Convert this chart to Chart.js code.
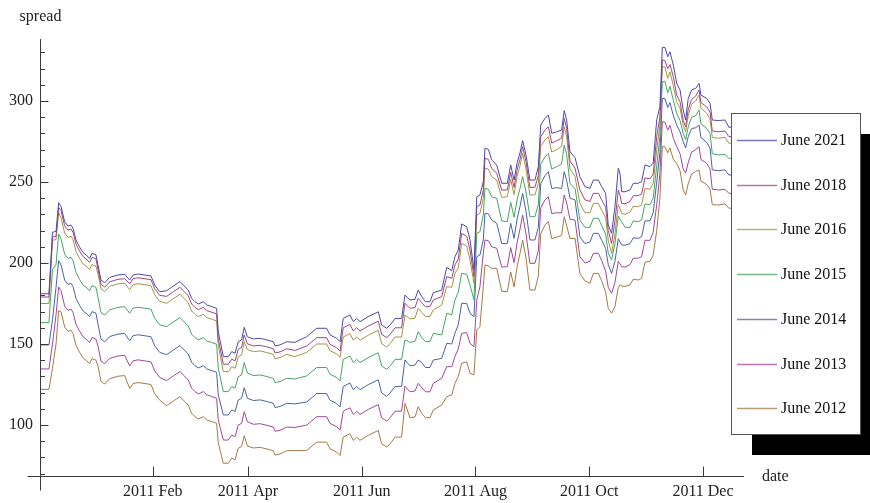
<!DOCTYPE html>
<html>
<head>
<meta charset="utf-8">
<script src="https://cdn.jsdelivr.net/npm/chart.js@4.4.1/dist/chart.umd.min.js"></script>
<style>
  html, body { margin: 0; padding: 0; background: #fff; }
  #wrap { width: 870px; height: 503px; }
</style>
</head>
<body>
<div id="wrap"><canvas id="chart" width="870" height="503"></canvas></div>
<script>
// day number counted from 1 Jan 2011 (negative = late Dec 2010)
const days = [
  -21.0, -16.7, -14.8, -12.9, -11.5, -10.2, -8.3, -6.5, -4.9, -3.8,
  -2.2, -0.2, 1.6, 3.2, 5.1, 6.4, 8.5, 9.6, 11.2, 13.2,
  15.9, 20.3, 23.9, 26.6, 28.4, 31.0, 38.0, 40.0, 42.7, 46.4,
  50.0, 53.6, 55.3, 58.0, 59.8, 61.6, 63.4, 66.1, 67.9, 70.6,
  73.2, 74.1, 76.8, 79.5, 81.3, 83.1, 84.8, 86.6, 88.0, 89.7,
  92.9, 96.5, 100.1, 103.6, 104.5, 107.2, 110.8, 115.2, 121.5, 126.9,
  132.2, 134.0, 137.6, 139.4, 141.1, 144.7, 146.5, 148.3, 150.1, 154.5,
  159.9, 161.7, 164.4, 166.2, 168.9, 172.4, 174.2, 176.9, 179.6, 181.3,
  183.2, 185.2, 187.6, 189.4, 193.9, 196.6, 199.3, 201.0, 202.8, 204.6,
  207.3, 209.1, 211.2, 212.7, 214.4, 216.2, 217.1, 218.9, 220.7, 223.4,
  226.1, 229.1, 230.9, 232.7, 234.4, 235.9, 237.3, 239.1, 241.2, 243.9,
  245.7, 247.0, 249.3, 251.1, 252.9, 255.6, 258.2, 259.6, 260.9, 262.7,
  265.4, 268.0, 270.7, 273.4, 275.2, 277.9, 279.7, 281.8, 283.2, 285.0,
  286.8, 288.6, 289.5, 290.4, 292.2, 294.9, 296.6, 299.3, 301.1, 302.9,
  305.6, 307.3, 309.2, 310.9, 312.2, 313.6, 315.1, 316.3, 318.1, 319.9,
  321.7, 323.4, 324.7, 326.1, 327.9, 330.1, 331.9, 332.9, 336.0, 337.8,
  339.0, 342.2, 345.8, 347.9, 353.8
];

const june2021 = [
  181, 181, 219, 219.5, 237.2, 234.8, 225.5, 222.8, 223.5, 221.5,
  214.2, 209.7, 206.4, 205, 202.9, 206, 205, 198.8, 189.5, 187.8,
  191.1, 192.6, 193, 189.5, 192.6, 193.2, 192, 186.4, 182.3, 182.9,
  185.8, 188.5, 186.4, 183.3, 178.2, 176.1, 174.7, 176.1, 174.1, 173.1,
  172, 157.6, 142.2, 142.2, 145.3, 144.3, 151.4, 152.5, 160.3, 154.5,
  153.1, 153.5, 152.5, 151.4, 148.8, 149.4, 151.4, 151, 154.5, 159.7,
  159.7, 155.6, 153.5, 151.4, 165.8, 167.9, 163.8, 165.8, 163.8, 166.9,
  169.9, 161.7, 159.7, 161.7, 165.8, 165.8, 180.2, 177.2, 177.6, 183.3,
  179.2, 176.1, 176.1, 181.7, 183.3, 197.3, 195.3, 203.9, 208, 224.1,
  222.4, 214.2, 195.7, 240.9, 242, 250.2, 270.8, 270.2, 263.6, 260.5,
  249.2, 249.2, 260.5, 251.2, 262, 268.1, 275.6, 266.7, 251.2, 251.2,
  259.5, 285.2, 289.3, 291.4, 280.1, 281, 282.1, 294, 288.3, 268.7,
  265, 253.3, 247.1, 246.1, 251.2, 251.2, 247.1, 243, 223.5, 218.3,
  234.8, 258.5, 255.4, 244, 244, 245.1, 249.2, 249.2, 250.2, 260.5,
  259.5, 261.6, 288.3, 296.5, 333.1, 333.1, 327.4, 330.4, 322.2, 310.9,
  306.8, 294.4, 288.3, 301.6, 306.8, 307.8, 310.9, 303.7, 301.6, 298.6,
  288.3, 287.9, 288.3, 283.8, 284
];

const june2018 = [
  179, 179, 216, 216.5, 234.2, 232.3, 223, 220.3, 221, 219,
  211.7, 207.2, 203.9, 202.5, 200.4, 203.5, 202.5, 196.1, 186.8, 185.1,
  188.4, 189.9, 190.3, 187.2, 190.3, 190.9, 189.7, 184.1, 180, 179.4,
  182.3, 185, 182.9, 179.8, 174.7, 172.6, 171.2, 172.6, 170.6, 169.6,
  168.5, 153, 137.5, 137.5, 140.6, 139.6, 146.7, 147.8, 155.6, 150.1,
  148.8, 149.2, 148.2, 147.1, 144.5, 145.1, 147.1, 146, 148.7, 153.9,
  153.9, 149.8, 147.7, 145.6, 160, 162.1, 158, 160, 158, 161.1,
  164.1, 155.9, 153.9, 155.9, 160, 160, 175.1, 172, 172.5, 178.2,
  175.5, 173, 173, 177.2, 179.2, 191.6, 190.5, 198.8, 202.5, 218.3,
  216.5, 208, 191.6, 234.8, 235.8, 245.1, 264.6, 264, 258.5, 255.4,
  245, 245.1, 256, 246.7, 257.8, 264, 271.8, 262.5, 246.7, 246.7,
  254, 278, 282, 284.1, 274, 275.5, 277, 289.3, 283, 263,
  258.5, 245.1, 239, 238, 243, 243, 239, 234.5, 220, 212.1,
  226, 245, 242, 236.8, 236.5, 238, 241.5, 241.6, 242.6, 252.5,
  252, 255, 278, 290, 325.3, 325, 320, 322.5, 315, 303.7,
  299.5, 288, 284, 295, 301, 303, 306.8, 299, 296.5, 293,
  281.5, 281, 281.5, 278, 278
];

const june2016 = [
  175, 175, 214, 214.5, 231.2, 227.8, 218.5, 215.8, 216.5, 214.5,
  207.2, 202.7, 199.4, 198, 195.9, 199, 198, 193.3, 184, 182.3,
  185.6, 187.1, 187.5, 183.5, 186.6, 187.2, 186, 180.4, 176.3, 175.1,
  178, 180.7, 178.6, 175.5, 170.4, 168.3, 166.9, 168.3, 166.3, 165.3,
  164.2, 149, 132.9, 132.9, 136, 135, 142.1, 143.2, 151.4, 146.5,
  145.3, 145.7, 144.7, 143.6, 141, 141.6, 143.6, 142.2, 144.8, 150,
  150, 145.9, 143.8, 141.7, 154.3, 156.4, 152.3, 154.3, 152.3, 155.4,
  158.4, 150.2, 148.2, 150.2, 154.3, 154.3, 167.9, 165.5, 166, 172,
  169.5, 167, 167, 171, 174.1, 185.4, 185, 193.6, 197, 212.1,
  210.5, 201.9, 187.5, 229.6, 230.7, 239.9, 258.5, 258, 253.3, 251.2,
  240.5, 240.9, 251.5, 242.2, 253.6, 260, 267.7, 258, 242, 242,
  249, 272, 276, 278, 268.5, 270, 272, 284.1, 278, 258,
  253.3, 236.8, 231, 231, 236.8, 236.8, 232.5, 228, 214, 206,
  218, 236, 233.5, 230.7, 230, 231.5, 235, 234.8, 235.8, 246,
  245.5, 249, 270, 285, 321.2, 321, 314, 318, 309.5, 299.6,
  295.5, 285, 281, 291, 298, 300, 303.7, 295.5, 292.5, 289,
  277.5, 277, 277.5, 273.9, 274
];

const june2015 = [
  163.2, 163.2, 196, 199, 217.9, 214.8, 205.5, 202.8, 203.5, 201.5,
  194.2, 189.7, 186.4, 185, 182.9, 186, 185, 178.8, 169.5, 167.8,
  171.1, 172.6, 173, 169, 172.1, 172.7, 171.5, 165.9, 161.8, 160.7,
  163.6, 166.3, 164.2, 161.1, 156, 153.9, 152.5, 153.9, 151.9, 150.9,
  149.8, 135, 120.6, 120.6, 123.7, 122.7, 129.8, 130.9, 138.5, 132.1,
  130.5, 130.9, 129.9, 128.8, 126.2, 126.8, 128.8, 128.4, 130.3, 135.5,
  135.5, 131.4, 129.3, 127.2, 140.5, 142.6, 138.5, 140.5, 138.5, 141.6,
  144.6, 136.4, 134.4, 136.4, 140.5, 140.5, 152.5, 151, 151.5, 157.6,
  154, 151.5, 151.5, 156.6, 155.6, 168.9, 168, 177.2, 182, 193.6,
  193, 186.4, 177.2, 218.3, 219.3, 229.6, 246.1, 245.5, 240.9, 239.9,
  226, 225.5, 237.5, 228.2, 239.5, 246, 253.3, 244, 228.6, 228.6,
  236, 261, 265.5, 267.7, 258, 259.5, 261, 272.8, 267, 249,
  246.1, 226.5, 222, 222, 227.6, 227.6, 223, 218, 206, 201.9,
  212, 229, 227, 225.5, 222, 222, 226, 225.5, 226.5, 236.5,
  236, 240, 260, 278, 312, 312, 305, 309, 300.5, 292.4,
  288, 280, 276, 284, 290, 291, 294.4, 286, 283, 280,
  267.5, 266.7, 267, 264.6, 264.5
];

const june2014 = [
  149.4, 149.4, 165, 185, 201.4, 198.8, 189.5, 186.8, 187.5, 185.5,
  178.2, 173.7, 170.4, 169, 166.9, 170, 169, 162.3, 153, 151.3,
  154.6, 156.1, 156.5, 152, 155.1, 155.7, 154.5, 148.9, 144.8, 143.4,
  146.3, 149, 146.9, 143.8, 138.7, 136.6, 135.2, 136.6, 134.6, 133.6,
  132.5, 118.5, 106.2, 106.2, 109.3, 108.3, 115.4, 116.5, 123, 116.5,
  115.1, 115.5, 114.5, 113.4, 110.8, 111.4, 113.4, 113, 114.2, 119.4,
  119.4, 115.3, 113.2, 111.1, 123.8, 125.9, 121.8, 123.8, 121.8, 124.9,
  127.9, 119.7, 117.7, 119.7, 123.8, 123.8, 140.1, 136.5, 137, 140.1,
  138.5, 135.5, 135.5, 140.1, 141.1, 150.4, 150, 156.6, 162, 175.1,
  175, 168.9, 166.9, 203.9, 204.9, 214.2, 230.7, 230.3, 226.5, 224.5,
  212, 212.1, 224.5, 215.2, 227.5, 235, 243, 232, 214.2, 214.2,
  222, 249, 254, 256.4, 246, 246.5, 246, 256.4, 251, 240,
  238.9, 216.2, 212, 213, 218.3, 218.3, 214, 209, 199, 193.6,
  201, 215, 213, 211.1, 211, 212, 215.5, 215.2, 216.2, 226,
  226, 231, 250, 268, 301.6, 301.5, 296, 299, 291, 285.2,
  281, 275, 271, 278, 283, 283.5, 285.2, 277.5, 274.5, 271,
  257.5, 257, 257.5, 254.3, 254.5
];

const june2013 = [
  134.6, 134.6, 150, 168, 185.2, 182.8, 173.5, 170.8, 171.5, 169.5,
  162.2, 157.7, 154.4, 153, 150.9, 154, 153, 148.8, 139.5, 137.8,
  141.1, 142.6, 143, 136.5, 139.6, 140.2, 139, 133.4, 129.3, 127.4,
  130.3, 133, 130.9, 127.8, 122.7, 120.6, 119.2, 120.6, 118.6, 117.6,
  116.5, 103, 90.7, 90.7, 93.8, 92.8, 99.9, 101, 108.2, 102,
  100.4, 100.8, 99.8, 98.7, 96.1, 96.7, 98.7, 98.5, 99.9, 105.1,
  105.1, 101, 98.9, 96.8, 108.5, 110.6, 106.5, 108.5, 106.5, 109.6,
  112.6, 104.4, 102.4, 104.4, 108.5, 108.5, 124, 120.5, 121, 125.7,
  123, 120.5, 120.5, 125.7, 128.8, 136, 136, 142.2, 147, 156.6,
  157, 150.4, 148.3, 177.2, 185.4, 206, 214.2, 213.8, 210, 209.1,
  197.5, 197.7, 209.5, 200.2, 213, 221, 229.6, 218, 199.8, 199.8,
  207.5, 234, 239, 240.9, 230.5, 231, 231, 242, 237, 227,
  226.5, 203.9, 200, 201, 206, 206, 201.5, 195, 185, 181.3,
  188, 201, 199.5, 197.7, 197.5, 199, 203, 202.9, 203.9, 214,
  214, 219, 236, 255, 287.2, 287, 282, 285, 277, 271.8,
  267.5, 258, 255.5, 262, 268.5, 270, 271.8, 264, 261.5, 258,
  245.5, 245.1, 245.5, 243, 243
];

const june2012 = [
  122, 122, 135, 150, 170.6, 169.8, 160.5, 157.8, 158.5, 156.5,
  149.2, 144.7, 141.4, 140, 137.9, 141, 140, 136.3, 127, 125.3,
  128.6, 130.1, 130.5, 122.5, 125.6, 126.2, 125, 119.4, 115.3, 111.9,
  114.8, 117.5, 115.4, 112.3, 107.2, 105.1, 103.7, 105.1, 103.1, 102.1,
  101, 89, 76.4, 76.4, 79.5, 78.5, 85.6, 86.7, 93.4, 87,
  85.8, 86.2, 85.2, 84.1, 81.5, 82.1, 84.1, 84.2, 84.2, 89.4,
  89.4, 85.3, 83.2, 81.1, 92.5, 94.6, 90.5, 92.5, 90.5, 93.6,
  96.6, 88.4, 86.4, 88.4, 92.5, 92.5, 113.4, 104.5, 105, 111.3,
  107, 104.5, 104.5, 109.3, 112.3, 117.5, 118.5, 125.7, 130, 138.1,
  139, 131.9, 130.9, 158.6, 160.7, 185.4, 198.8, 198.2, 196.7, 196.7,
  182.5, 182.3, 194.5, 185.2, 198, 206, 214.2, 203, 183.3, 183.3,
  192, 218, 223.5, 225.5, 215, 216, 217, 228.6, 223, 215,
  215.2, 193.6, 189, 187.5, 193.6, 193.6, 189, 182, 172, 169,
  173, 185, 186.5, 185.8, 185.5, 186.5, 190, 189.5, 190.5, 200.5,
  201, 205, 220, 240, 271.8, 271.8, 268, 271, 264, 261.5,
  257, 245, 242, 249, 255, 256.5, 257.4, 250.5, 248.5, 245.5,
  236, 235.8, 236.5, 233.8, 234
];

const seriesNames = ['June 2021', 'June 2018', 'June 2016', 'June 2015', 'June 2014', 'June 2013', 'June 2012'];
const seriesValues = [june2021, june2018, june2016, june2015, june2014, june2013, june2012];
const seriesColors = ['#4b4aa6', '#a3457a', '#a39548', '#48a364', '#4862a3', '#a04896', '#a37a48'];

// x axis tick positions (day numbers) and their labels
const monthTicks = [39, 90, 151, 212, 273, 334];
const monthLabels = ['2011 Feb', '2011 Apr', '2011 Jun', '2011 Aug', '2011 Oct', '2011 Dec'];

// y axis: minor ticks every 10, labelled every 50
const yTicks = [70, 80, 90, 100, 110, 120, 130, 140, 150, 160, 170, 180, 190, 200,
  210, 220, 230, 240, 250, 260, 270, 280, 290, 300, 310, 320, 330];
const yLabelled = [100, 150, 200, 250, 300];

const serif = '"Liberation Serif", "Times New Roman", serif';

// mathematica-style axes: ticks pointing inward, axes crossing past the corner
const plotAxes = {
  id: 'plotAxes',
  afterDatasetsDraw(chart) {
    const ctx = chart.ctx;
    const area = chart.chartArea;
    const xs = chart.scales.x;
    const ys = chart.scales.y;
    const x0 = Math.round(area.left) + 0.5;
    const y0 = Math.round(area.bottom) + 0.5;
    ctx.save();
    ctx.strokeStyle = '#3a3a3a';
    ctx.lineWidth = 1;
    ctx.beginPath();
    ctx.moveTo(x0 - 13, y0);
    ctx.lineTo(area.right, y0);
    ctx.moveTo(x0, area.top + 1);
    ctx.lineTo(x0, y0 + 14);
    yTicks.forEach(v => {
      const py = Math.round(ys.getPixelForValue(v)) + 0.5;
      const len = yLabelled.includes(v) ? 8 : 4.5;
      ctx.moveTo(x0, py);
      ctx.lineTo(x0 + len, py);
    });
    monthTicks.forEach(v => {
      const px = Math.round(xs.getPixelForValue(v)) + 0.5;
      ctx.moveTo(px, y0);
      ctx.lineTo(px, y0 - 10);
    });
    ctx.stroke();

    ctx.fillStyle = '#222';
    ctx.font = '16px ' + serif;
    ctx.textBaseline = 'middle';
    ctx.textAlign = 'center';
    ctx.fillText('spread', x0, 17);
    ctx.textAlign = 'left';
    ctx.fillText('date', area.right + 18, y0);
    ctx.restore();
  },
  afterDraw(chart) {
    const ctx = chart.ctx;
    const bx = 731, by = 113, bw = 129, bh = 321;
    ctx.save();
    ctx.fillStyle = '#000';
    ctx.fillRect(bx + 21, by + 21, bw, bh);
    ctx.fillStyle = '#fff';
    ctx.fillRect(bx, by, bw, bh);
    ctx.strokeStyle = '#555';
    ctx.lineWidth = 1;
    ctx.strokeRect(bx + 0.5, by + 0.5, bw, bh);
    ctx.font = '16px ' + serif;
    ctx.textBaseline = 'middle';
    ctx.textAlign = 'left';
    chart.data.datasets.forEach((ds, i) => {
      const ry = Math.round(by + 27 + i * 44.7) + 0.5;
      ctx.globalAlpha = 0.75;
      ctx.strokeStyle = ds.borderColor;
      ctx.lineWidth = 1.3;
      ctx.beginPath();
      ctx.moveTo(bx + 6, ry);
      ctx.lineTo(bx + 46, ry);
      ctx.stroke();
      ctx.globalAlpha = 1;
      ctx.fillStyle = '#111';
      ctx.fillText(ds.label, bx + 50, ry);
    });
    ctx.restore();
  }
};

const datasets = seriesNames.map((name, i) => ({
  label: name,
  data: days.map((d, k) => ({ x: d, y: seriesValues[i][k] })),
  borderColor: seriesColors[i],
  borderWidth: 1,
  pointRadius: 0,
  tension: 0,
  fill: false
}));

new Chart(document.getElementById('chart').getContext('2d'), {
  type: 'line',
  data: { datasets: datasets },
  options: {
    responsive: false,
    animation: false,
    devicePixelRatio: 1,
    layout: { padding: { top: 38, right: 126, left: 0, bottom: 0 } },
    plugins: {
      legend: { display: false },
      tooltip: { enabled: false }
    },
    scales: {
      x: {
        type: 'linear',
        min: -21.5,
        max: 356,
        grid: { display: false, drawTicks: false },
        border: { display: false },
        afterBuildTicks: scale => { scale.ticks = monthTicks.map(v => ({ value: v })); },
        afterFit: scale => { scale.height = 27; },
        ticks: {
          autoSkip: false,
          maxRotation: 0,
          padding: 6,
          color: '#222',
          font: { family: serif, size: 16 },
          callback: v => monthLabels[monthTicks.indexOf(v)]
        }
      },
      y: {
        type: 'linear',
        min: 68.5,
        max: 338.9,
        grid: { display: false, drawTicks: false },
        border: { display: false },
        afterBuildTicks: scale => { scale.ticks = yTicks.map(v => ({ value: v })); },
        afterFit: scale => { scale.width = 40; },
        ticks: {
          autoSkip: false,
          padding: 7,
          color: '#222',
          font: { family: serif, size: 16 },
          callback: v => (yLabelled.includes(v) ? String(v) : '')
        }
      }
    }
  },
  plugins: [plotAxes]
});
</script>
</body>
</html>
